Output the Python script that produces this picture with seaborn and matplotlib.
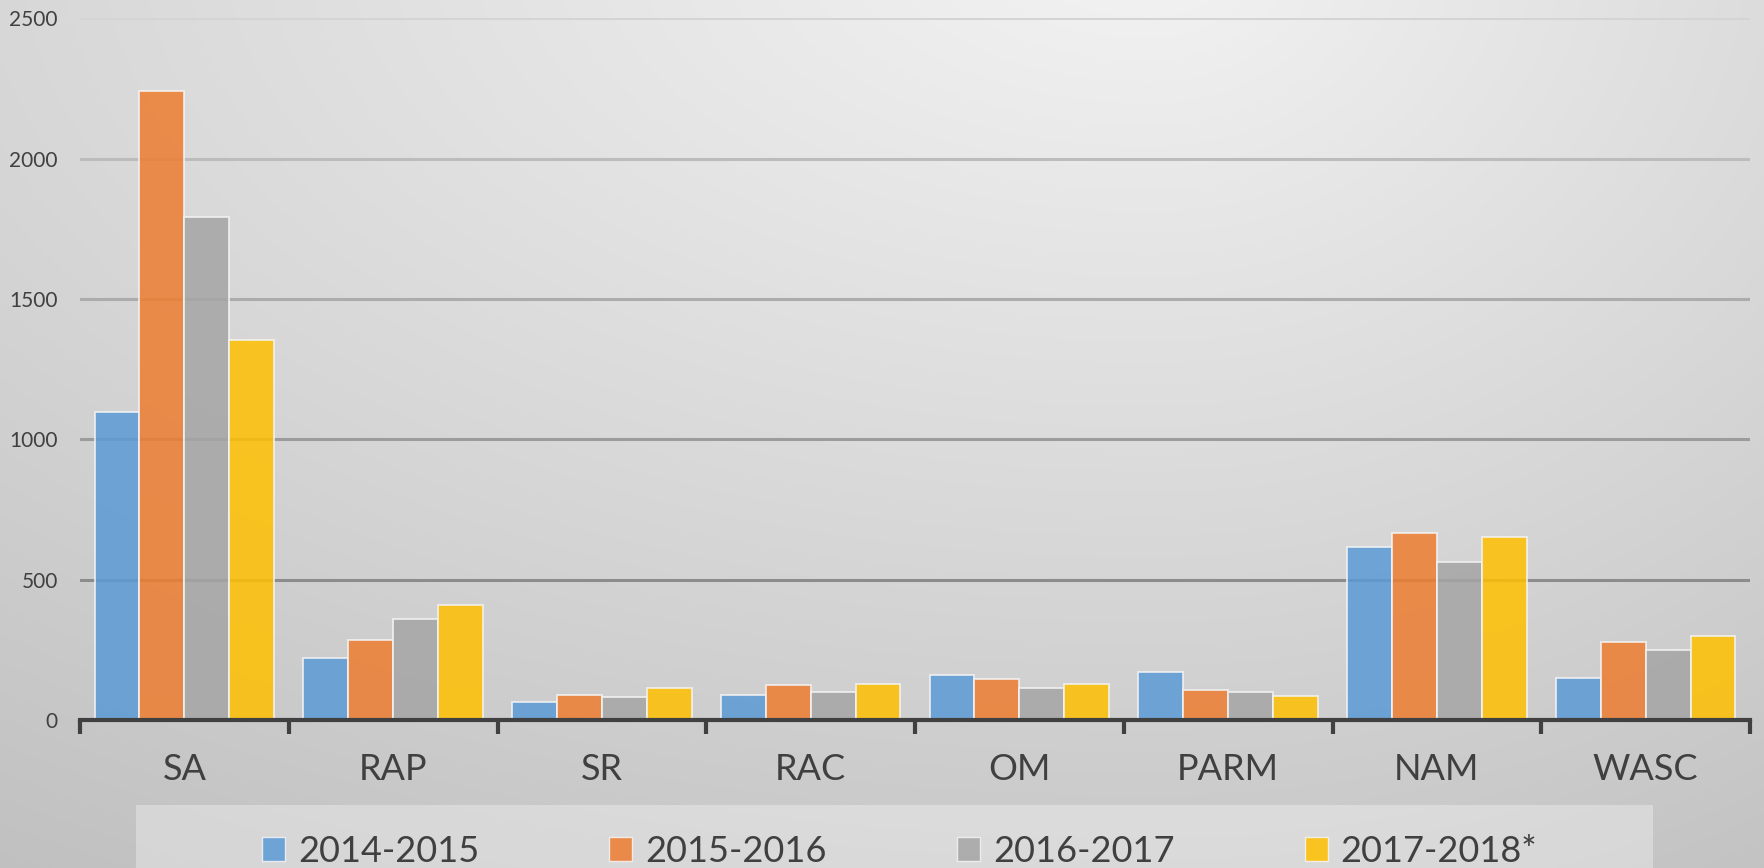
import numpy as np
import pandas as pd
import matplotlib
matplotlib.use("Agg")
import matplotlib.pyplot as plt
from matplotlib.patches import Patch, Rectangle
import seaborn as sns

# ---- data ----
categories = ["SA", "RAP", "SR", "RAC", "OM", "PARM", "NAM", "WASC"]
series_names = ["2014-2015", "2015-2016", "2016-2017", "2017-2018*"]
v2014_2015 = [1096, 222, 63, 90, 160, 170, 615, 150]
v2015_2016 = [2242, 285, 88, 125, 145, 107, 667, 278]
v2016_2017 = [1791, 360, 81, 99, 113, 99, 562, 250]
v2017_2018 = [1354, 409, 115, 128, 129, 86, 652, 299]
y_ticks = [0, 500, 1000, 1500, 2000, 2500]

colors = ["#5B9BD5", "#ED7D31", "#A5A5A5", "#FFC000"]
grid_colors = {500: "#8c8c8c", 1000: "#9c9c9c", 1500: "#acacac", 2000: "#bcbcbc", 2500: "#d4d4d4"}
text_color = "#404040"

rows = []
for name, vals in zip(series_names, [v2014_2015, v2015_2016, v2016_2017, v2017_2018]):
    for c, v in zip(categories, vals):
        rows.append({"category": c, "series": name, "value": v})
df = pd.DataFrame(rows)

sns.set_theme(style="white")
plt.rcParams["font.family"] = ["Lato", "DejaVu Sans"]

W, H = 1764, 868
fig = plt.figure(figsize=(W / 100, H / 100), dpi=100)

# ---- gradient background ----
bg_ax = fig.add_axes([0, 0, 1, 1], zorder=-10)
yy, xx = np.mgrid[0:H, 0:W]
cx, cy = 1150.0, -60.0
dx = (xx - cx)
dx = np.where(dx > 0, dx * 1.55, dx)
dy = (yy - cy) * 1.9
d = np.sqrt(dx ** 2 + dy ** 2)
val = 0.955 - 0.105 * d / 1100.0
val = np.clip(val, 0.74, 0.96)
bg_ax.imshow(np.dstack([val, val, val]), aspect="auto", extent=[0, 1, 0, 1], origin="upper")
bg_ax.set_axis_off()

# legend box (lighter overlay)
fig.patches.append(Rectangle((136 / W, 0), (1653 - 136) / W, (H - 805) / H,
                             transform=fig.transFigure, facecolor="white", alpha=0.32,
                             edgecolor="none", zorder=-5))

# ---- main axes ----
ax = fig.add_axes([80 / W, (H - 720) / H, (1750 - 80) / W, (720 - 18.3) / H])
ax.set_facecolor("none")

for yv, gc in grid_colors.items():
    ax.axhline(yv, color=gc, linewidth=2.2, zorder=0)

sns.barplot(data=df, x="category", y="value", hue="series", palette=colors,
            saturation=1, width=0.86, gap=0, alpha=0.85, edgecolor="#f4f4f4",
            linewidth=1.3, ax=ax, legend=False, zorder=2)

ax.set_xlim(-0.5, len(categories) - 0.5)
ax.set_ylim(0, 2500)
ax.set_yticks(y_ticks)
ax.set_yticklabels([str(t) for t in y_ticks], fontsize=15, color=text_color)
ax.tick_params(axis="y", left=False, length=0, pad=16)

ax.set_xticks(range(len(categories)))
ax.set_xticklabels(categories, fontsize=26, color=text_color)
ax.set_xticks(np.arange(-0.5, len(categories), 1.0), minor=True)
ax.tick_params(axis="x", which="major", bottom=False, length=0, pad=24)
ax.tick_params(axis="x", which="minor", bottom=True, length=10, width=3,
               color=text_color, direction="out")
ax.set_xlabel("")
ax.set_ylabel("")
ax.grid(False)

for s in ["left", "top", "right"]:
    ax.spines[s].set_visible(False)
ax.spines["bottom"].set_color(text_color)
ax.spines["bottom"].set_linewidth(3)
ax.spines["bottom"].set_zorder(5)

# ---- legend ----
handles = [Patch(facecolor=c, alpha=0.85, edgecolor="#f4f4f4", linewidth=1.0) for c in colors]
leg = fig.legend(handles, series_names, loc="center left",
                 bbox_to_anchor=(262 / W, (H - 851) / H), ncol=4, frameon=False,
                 fontsize=26, handlelength=0.64, handleheight=0.67, handletextpad=0.36,
                 columnspacing=3.6, borderpad=0, borderaxespad=0)
for t in leg.get_texts():
    t.set_color(text_color)

fig.savefig("out.png", dpi=100)
